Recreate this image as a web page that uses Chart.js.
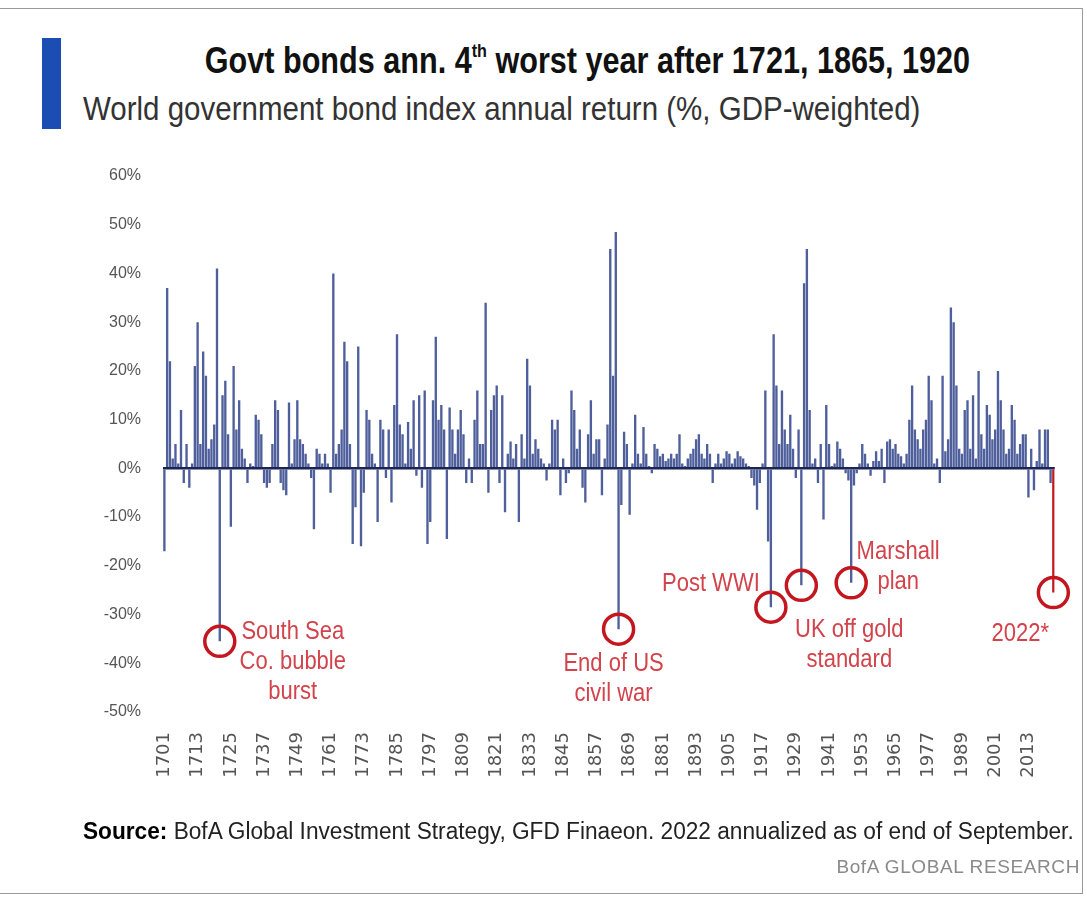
<!DOCTYPE html>
<html>
<head>
<meta charset="utf-8">
<script src="https://cdn.jsdelivr.net/npm/chart.js@4"></script>
<style>
    body { margin: 0; background: #fff; }
    .page { position: relative; width: 1087px; height: 899px; overflow: hidden; }
    .frame { position: absolute; left: -2px; top: 8px; width: 1083px; height: 884px; border: 1px solid #9a9a9a; }
    .accent { position: absolute; left: 42px; top: 38px; width: 19px; height: 91px; background: #1b4db3; }
    .title { position: absolute; left: 0; width: 1175px; top: 40px; text-align: center;
             font: bold 36px "Liberation Sans", sans-serif; color: #111;
             transform: scaleX(0.85); transform-origin: 587px 0; }
    .title sup { font-size: 19px; vertical-align: 16px; line-height: 0; }
    .subtitle { position: absolute; left: 83px; top: 90px; font: 33px "Liberation Sans", sans-serif; color: #333;
                white-space: nowrap; transform: scaleX(0.894); transform-origin: 0 0; }
    .source { position: absolute; left: 83px; top: 818px; font: 23px "Liberation Sans", sans-serif; color: #222;
              white-space: nowrap; transform: scaleX(0.985); transform-origin: 0 0; }
    .source b { color: #000; }
    .brand { position: absolute; right: 7px; top: 856px; font: 19px "Liberation Sans", sans-serif;
             color: #8a8a8a; letter-spacing: 0.6px; }
    .chart-box { position: absolute; left: 0; top: 0; width: 1087px; height: 899px; }
</style>
</head>
<body>
<div class="page">
    <div class="frame"></div>
    <div class="accent"></div>
    <div class="title">Govt bonds ann. 4<sup>th</sup> worst year after 1721, 1865, 1920</div>
    <div class="subtitle">World government bond index annual return (%, GDP-weighted)</div>
    <div class="chart-box"><canvas id="bondChart"></canvas></div>
    <div class="source"><b>Source:</b> BofA Global Investment Strategy, GFD Finaeon. 2022 annualized as of end of September.</div>
    <div class="brand">BofA GLOBAL RESEARCH</div>
</div>

<script>
// ปี 1701 - 2022 (one bar per year)
const firstYear = 1701;
const lastYear = 2022;
const years = [];
for (let yr = firstYear; yr <= lastYear; yr++) years.push(yr);

// labels shown under the axis (every 12 years)
const tickYears = [1701, 1713, 1725, 1737, 1749, 1761, 1773, 1785, 1797, 1809, 1821, 1833, 1845,
                   1857, 1869, 1881, 1893, 1905, 1917, 1929, 1941, 1953, 1965, 1977, 1989, 2001, 2013];

// annual return, % (one row per decade)
const returns = [
    -17, 37, 22, 2, 5, 1, 12, -3, 5, -4,            // 1701-1710
    1, 21, 30, 5, 24, 19, 4, 6, 9, 41,              // 1711-1720
    -35.5, 15, 18, 7, -12, 21, 8, 14, 4, 2,         // 1721-1730
    -3, 1, 0.5, 11, 10, 7, -3, -4, -3, 5,           // 1731-1740
    14, 12, -3, -4.5, -5.5, 13.5, 1, 6, 14, 6,      // 1741-1750
    5, 3, 1, -2, -12.5, 4, 3, 1, 3, 1,              // 1751-1760
    -5, 40, 3, 5, 8, 26, 22, 5, -15.5, -8,          // 1761-1770
    25, -16, -5, 12, 10, 3, 1, -11, 10, 8,          // 1771-1780
    -2, 8, -7, 13, 27.5, 9, 7, 1, 9.5, 4,           // 1781-1790
    14, -1.5, 15, -4, 16, -15.5, -11, 14, 27, 10,   // 1791-1800
    13, 8, -14.5, 12.5, 8, 3, 8, 12, 7, -3,         // 1801-1810
    2, -3, 10, 16, 5, 5, 34, -5, 12, 15,            // 1811-1820
    17, -3, 15, -9, 3, 5.5, 2, 5, -11, 7,           // 1821-1830
    2, 22.5, 17, 3, 6, 4, 2, 1, -2.5, 1,            // 1831-1840
    10, 8, 10, -5.5, 2, -3, -1, 16, 12, 4,          // 1841-1850
    8, -4, -7, 7, 14, 3, 6, 6, -5.5, 2,             // 1851-1860
    9, 45, 19, 48.5, -33, -7.5, 7.5, 5, -9.5, 1,    // 1861-1870
    11, 3, 1, 8.5, 3, 0.5, -1, 5, 4, 2.5,           // 1871-1880
    3, 1.5, 2, 3, 2, 3, 7, 1, 0.5, 2,               // 1881-1890
    3, 4, 6, 7, 3, 2, 5, 3, -3, 1,                  // 1891-1900
    3, 1, 2, 3.5, 3, 1, 2, 3.5, 2.5, 2,             // 1901-1910
    1, 0.5, -2, -3.5, -8.5, -3, 1, 16, -15, -28.5,  // 1911-1920
    27.5, 17, 5, 16, 8, 5, 11, 4, -2, 8,            // 1921-1930
    -24, 38, 45, 12, 1, 2, -3, 5, -10.5, 13,        // 1931-1940
    5, 0.5, 1, 5.5, 4, 2, -1, -2.5, -23.5, -3.5,    // 1941-1950
    -1, 1, 5, 3, 1, -1.5, 1.5, 3.5, 1.5, 4,         // 1951-1960
    -3, 5.5, 6, 4, 5, 3, 2.5, 1, 3, 10,             // 1961-1970
    17, 8, 6, 4, 8, 10, 19, 14, 1, 2,               // 1971-1980
    -3, 19, 3.5, 6, 33, 30, 17, 4, 3, 12,           // 1981-1990
    14, 4, 15, 2, 20, 7, 4, 13, 11, 6,              // 1991-2000
    8, 20, 14, 8, 3, 4, 13, 10, 3, 5,               // 2001-2010
    7, 7, -6, 4, -4.5, 1.5, 8, 1, 8, 8,             // 2011-2020
    -3, -25.5                                       // 2021-2022*
];

// circled episodes
const noteYears = [1721, 1865, 1920, 1931, 1949, 2022];
const noteTexts = [
    ['South Sea', 'Co. bubble', 'burst'],
    ['End of US', 'civil war'],
    ['Post WWI'],
    ['UK off gold', 'standard'],
    ['Marshall', 'plan'],
    ['2022*']
];
const highlightYear = 2022;

document.addEventListener('DOMContentLoaded', () => {

    const bondCtx = document.getElementById('bondChart');

    // where each label sits relative to its circle
    const noteSpots = {
        1721: { dx: 73, dy: -9 },
        1865: { dx: -5, dy: 35 },
        1920: { dx: -60, dy: -23 },
        1931: { dx: 48, dy: 45 },
        1949: { dx: 47, dy: -31 },
        2022: { dx: -33, dy: 41 }
    };

    const notesPlugin = {
        id: 'notes',
        afterDatasetsDraw(chart) {
            const { ctx, scales: { x, y } } = chart;
            ctx.save();
            noteYears.forEach((yr, n) => {
                const i = years.indexOf(yr);
                const cx = x.getPixelForValue(i);
                const cy = y.getPixelForValue(returns[i]);

                ctx.strokeStyle = '#c3161f';
                ctx.lineWidth = 3.5;
                ctx.beginPath();
                ctx.arc(cx, cy, 15, 0, Math.PI * 2);
                ctx.stroke();

                const spot = noteSpots[yr];
                ctx.fillStyle = '#d2434b';
                ctx.font = '25px "Liberation Sans", sans-serif';
                ctx.textAlign = 'center';
                ctx.textBaseline = 'middle';
                noteTexts[n].forEach((line, k) => {
                    // squeeze the text a bit, like the original's narrow face
                    ctx.save();
                    ctx.translate(cx + spot.dx, cy + spot.dy + k * 30);
                    ctx.scale(0.88, 1);
                    ctx.fillText(line, 0, 0);
                    ctx.restore();
                });
            });
            ctx.restore();
        }
    };

    new Chart(bondCtx, {
        type: 'bar',
        data: {
            labels: years,
            datasets: [{
                data: returns,
                backgroundColor: years.map(yr => yr === highlightYear ? '#c3161f' : '#4e5f9b'),
                barPercentage: 0.85,
                categoryPercentage: 1
            }]
        },
        options: {
            responsive: true,
            maintainAspectRatio: false,
            animation: false,
            layout: {
                padding: { left: 100, right: 32, top: 176, bottom: 0 }
            },
            plugins: {
                legend: { display: false },
                tooltip: { enabled: false }
            },
            scales: {
                x: {
                    grid: { display: false },
                    border: { display: false },
                    afterFit: (axis) => { axis.height = 187; },
                    ticks: {
                        autoSkip: false,
                        minRotation: 90,
                        maxRotation: 90,
                        padding: 12,
                        color: '#555',
                        font: { family: 'DejaVu Sans', size: 18 },
                        callback: function (value) {
                            const yr = years[value];
                            return tickYears.includes(yr) ? String(yr) : '';
                        }
                    }
                },
                y: {
                    min: -50,
                    max: 60,
                    border: { display: false },
                    afterFit: (axis) => { axis.width = 63; },
                    grid: {
                        drawTicks: false,
                        color: (c) => c.tick && c.tick.value === 0 ? '#1b2452' : 'rgba(0,0,0,0)',
                        lineWidth: 2.5
                    },
                    ticks: {
                        stepSize: 10,
                        padding: 22,
                        color: '#555',
                        font: { family: 'Liberation Sans', size: 16 },
                        callback: (v) => v + '%'
                    }
                }
            }
        },
        plugins: [notesPlugin]
    });

});
</script>
</body>
</html>
